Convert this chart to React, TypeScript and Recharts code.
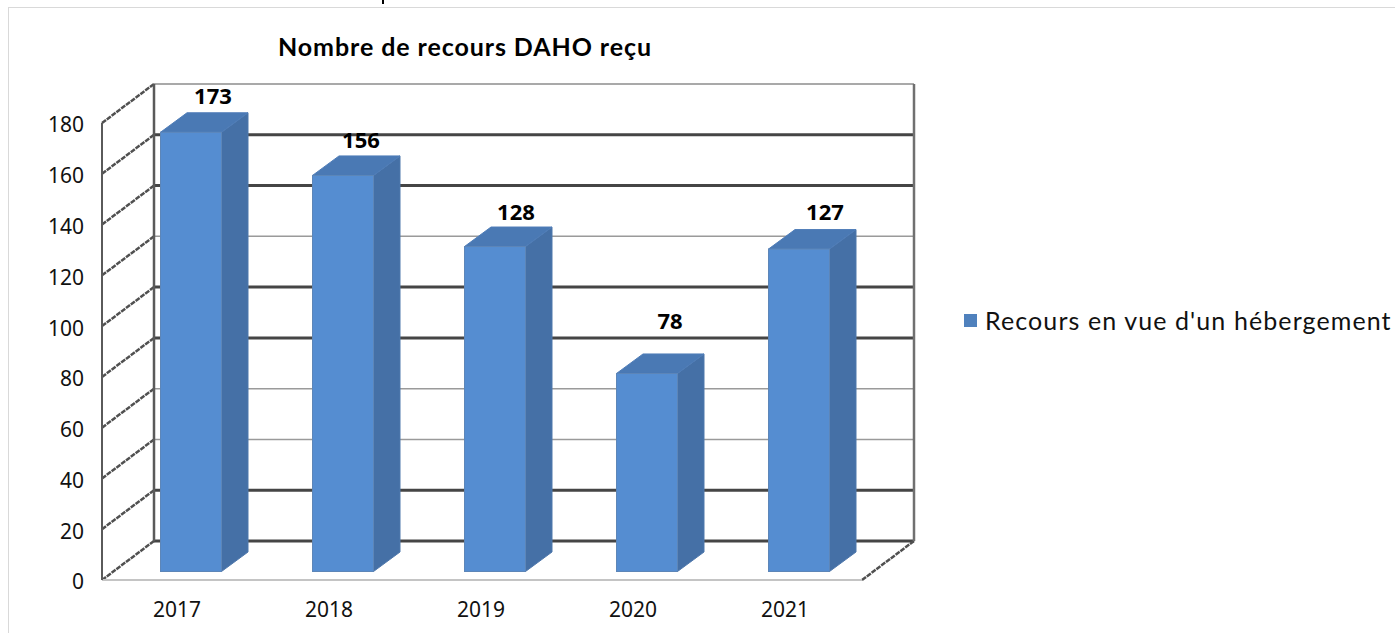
import React from "react";
import { ComposedChart, Bar, XAxis, YAxis, CartesianGrid, Legend, LabelList } from "recharts";

const years = ["2017", "2018", "2019", "2020", "2021"];
const recours = [173, 156, 128, 78, 127];
const yTicks = [0, 20, 40, 60, 80, 100, 120, 140, 160, 180];
const heavyGridTicks = [0, 20, 80, 100, 140, 160];
const seriesName = "Recours en vue d'un hébergement";
const chartTitle = "Nombre de recours DAHO reçu";

const rows = years.map((year, i) => ({ year, recours: recours[i] }));

const W = 1395, H = 633;
const RIGHT = 862, TOP = 123, BOTTOM = 580, LEFT = 102;
const BACK_DX = 52, BACK_DY = -39;
const BAR_DX = 12.5, BAR_DY = -8.5, DEPTH_X = 26.5, DEPTH_Y = -19.5;
const labelNudge = [
  { x: 22, y: -37 },
  { x: 18, y: -36 },
  { x: 21, y: -36 },
  { x: 23, y: -53 },
  { x: 26, y: -38 },
];
const UI = "'Noto Sans', 'Open Sans', sans-serif";
const GEO = "Lato, 'Noto Sans', sans-serif";

function GridSet(props: any) {
  const { x1, x2, y1, index } = props;
  const value = yTicks[index];
  const heavy = heavyGridTicks.includes(value);
  const by = y1 + BACK_DY;
  const bl = x1 + BACK_DX;
  const br = x2 + BACK_DX;
  const diag = { stroke: "#505050", strokeWidth: 2.5, strokeDasharray: "5 1" };
  return (
    <g>
      <line x1={bl} x2={br} y1={by} y2={by} stroke={value === 180 ? "#8c8c8c" : heavy ? "#454545" : "#9a9a9a"} strokeWidth={heavy ? 3 : 1.5} />
      <line x1={x1} y1={y1} x2={bl} y2={by} {...diag} />
      {value === 0 && <line x1={x2} y1={y1} x2={br} y2={by} {...diag} />}
      {value === 180 && (
        <>
          <line x1={bl} x2={bl} y1={by} y2={BOTTOM + BACK_DY} stroke="#5a5a5a" strokeWidth={2.5} />
          <line x1={br} x2={br} y1={by} y2={BOTTOM + BACK_DY} stroke="#707070" strokeWidth={2.5} />
        </>
      )}
    </g>
  );
}

function Bar3D(props: any) {
  const { x, y, width, height } = props;
  const l = x + BAR_DX, r = l + width, t = y + BAR_DY, b = t + height;
  return (
    <g>
      <polygon points={`${r},${t} ${r + DEPTH_X},${t + DEPTH_Y} ${r + DEPTH_X},${b + DEPTH_Y} ${r},${b}`} fill="#4570a6" stroke="#4f78ac" strokeWidth={1} />
      <polygon points={`${l},${t} ${l + DEPTH_X},${t + DEPTH_Y} ${r + DEPTH_X},${t + DEPTH_Y} ${r},${t}`} fill="#4a79b4" stroke="#4f7db8" strokeWidth={1} />
      <rect x={l} y={t} width={width} height={height} fill="#558dd1" stroke="#5d86b8" strokeWidth={1} />
    </g>
  );
}

function ValueLabel(props: any) {
  const { x, y, width, value, index } = props;
  const n = labelNudge[index];
  return (
    <text x={x + width / 2 + BAR_DX + n.x} y={y + BAR_DY + n.y} textAnchor="middle" dominantBaseline="central" fontFamily={UI} fontSize={22} fontWeight={700} fill="#000">
      {value}
    </text>
  );
}

function LegendBox({ payload }: any) {
  return (
    <div style={{ display: "flex", alignItems: "center" }}>
      {(payload || []).map((p: any) => (
        <React.Fragment key={p.value}>
          <span style={{ width: 13, height: 13, background: "#4f81bd", display: "inline-block", marginRight: 8 }} />
          <span style={{ fontFamily: GEO, fontSize: 25, color: "#111", letterSpacing: 1.1, whiteSpace: "nowrap" }}>{p.value}</span>
        </React.Fragment>
      ))}
    </div>
  );
}

export default function App() {
  return (
    <div style={{ position: "absolute", left: 0, top: 0, width: W, height: H, background: "#fff", overflow: "hidden" }}>
      <div style={{ position: "absolute", left: 8, top: 7, right: 0, bottom: 0, borderLeft: "1px solid #d9d9d9", borderTop: "1px solid #d9d9d9" }} />
      <div style={{ position: "absolute", left: 382, top: 0, width: 2, height: 4, background: "#000" }} />
      <ComposedChart
        width={W}
        height={H}
        data={rows}
        margin={{ left: 0, top: TOP, right: W - RIGHT, bottom: 0 }}
        style={{ position: "absolute", left: 0, top: 0 }}
      >
        <text x={465} y={46} textAnchor="middle" dominantBaseline="central" fontFamily={GEO} fontSize={25} fontWeight={700} fill="#000" letterSpacing={0.92}>
          {chartTitle}
        </text>
        <CartesianGrid vertical={false} horizontal={(p: any) => <GridSet key={p.key} {...p} />} />
        <XAxis
          dataKey="year"
          height={H - BOTTOM}
          tickLine={false}
          axisLine={{ stroke: "#c4c4c4", strokeWidth: 2 }}
          tickMargin={16}
          tick={{ fontFamily: UI, fontSize: 21, fill: "#111", dx: -1 }}
        />
        <YAxis
          domain={[0, 180]}
          ticks={yTicks}
          width={LEFT}
          tickSize={0}
          tickMargin={18}
          axisLine={{ stroke: "#5a5a5a", strokeWidth: 2 }}
          tick={{ fontFamily: UI, fontSize: 21, fill: "#111", dy: 2 }}
        />
        <Legend
          layout="vertical"
          align="center"
          verticalAlign="middle"
          content={<LegendBox />}
          wrapperStyle={{ left: 964, top: 305, width: 431, height: 34 }}
        />
        <Bar dataKey="recours" name={seriesName} barSize={61} fill="#4f81bd" shape={<Bar3D />} isAnimationActive={false}>
          <LabelList dataKey="recours" content={<ValueLabel />} />
        </Bar>
      </ComposedChart>
    </div>
  );
}
